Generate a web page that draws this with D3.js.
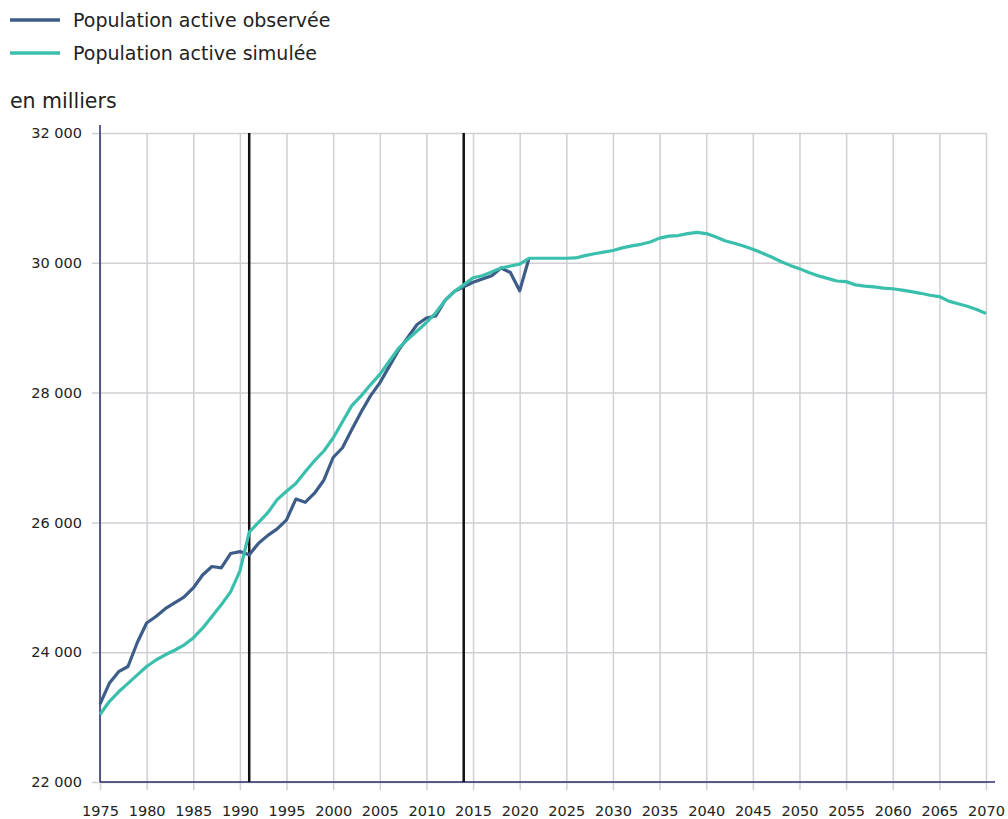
<!DOCTYPE html>
<html>
<head>
<meta charset="utf-8">
<script src="https://cdn.jsdelivr.net/npm/d3@7"></script>
<style>
  body { margin: 0; background: #fff; font-family: "DejaVu Sans", sans-serif; }
  .grid line { stroke: #cfcfd4; stroke-width: 1.5; }
  .grid text { font-family: "DejaVu Sans", sans-serif; font-size: 14.5px; fill: #222; }
</style>
</head>
<body>
<div id="chart"></div>
<script>
// years and values (en milliers)
const yearsObs = d3.range(1975, 2022);
const observed = [
  23200, 23520, 23700, 23780, 24150, 24450, 24550, 24670, 24760, 24850,
  24990, 25190, 25320, 25300, 25520, 25550, 25500, 25680, 25800, 25900,
  26040, 26360, 26310, 26450, 26650, 27000, 27150, 27430, 27700, 27950,
  28150, 28400, 28650, 28850, 29050, 29150, 29180, 29420, 29560, 29630,
  29700, 29750, 29800, 29920, 29850, 29570, 30070
];

const yearsSim = d3.range(1975, 2071);
const simulated = [
  23040, 23240, 23390, 23520, 23650, 23780, 23880, 23960, 24030, 24110,
  24220, 24370, 24550, 24730, 24930, 25250, 25850, 26000, 26150, 26350,
  26480, 26600, 26780, 26950, 27100, 27300, 27550, 27800, 27950, 28120,
  28280, 28480, 28680, 28820, 28950, 29080, 29230, 29420, 29560, 29660,
  29770, 29800, 29860, 29920, 29950, 29980, 30070, 30070, 30070, 30070,
  30070, 30075, 30110, 30140, 30165, 30190, 30230, 30260, 30285, 30320,
  30380, 30410, 30420, 30450, 30470, 30450, 30400, 30340, 30300, 30260,
  30210, 30150, 30090, 30020, 29960, 29910, 29850, 29800, 29760, 29720,
  29710, 29660, 29640, 29630, 29610, 29600, 29580, 29555, 29530, 29500,
  29480, 29410, 29370, 29330, 29280, 29220
];

const xTicks = d3.range(1975, 2071, 5);
const yTicks = [22000, 24000, 26000, 28000, 30000, 32000];
const markerYears = [1991, 2014];
const seriesNames = ["Population active observée", "Population active simulée"];
const colors = ["#3d5d88", "#3bbfad"];

const W = 1008, H = 819;
const margin = { top: 133, right: 22, bottom: 37, left: 100 };
const height = H - margin.top - margin.bottom;

const fr = d3.formatLocale({ decimal: ",", thousands: " ", grouping: [3], currency: ["", ""] });
const fmt = fr.format(",");

const svg = d3.select("#chart").append("svg")
  .attr("width", W).attr("height", H);

const g = svg.append("g").attr("transform", `translate(${margin.left},${margin.top})`);

const x = d3.scaleLinear().domain([1975, 2070]).range([0, 886]);
const y = d3.scaleLinear().domain([22000, 32000]).range([height, 0]);

// horizontal grid + y labels
const yAxisG = g.append("g").attr("class", "grid")
  .attr("transform", "translate(-8,0)")
  .call(d3.axisLeft(y).tickValues(yTicks).tickSize(-886 - 8).tickPadding(10).tickFormat(fmt));
yAxisG.select(".domain").remove();
yAxisG.attr("font-size", null).attr("font-family", null);

// vertical grid + x labels
const xAxisG = g.append("g").attr("class", "grid")
  .attr("transform", `translate(0,${height + 8})`)
  .call(d3.axisBottom(x).tickValues(xTicks).tickSize(-height - 8).tickFormat(d3.format("d")).tickPadding(16));
xAxisG.select(".domain").remove();
xAxisG.attr("font-size", null).attr("font-family", null);

// axis lines
g.append("line").attr("x1", 0).attr("x2", 0).attr("y1", -8).attr("y2", height)
  .attr("stroke", "#2b2d6b").attr("stroke-width", 1.5);
g.append("line").attr("x1", 0).attr("x2", 895).attr("y1", height).attr("y2", height)
  .attr("stroke", "#2b2d6b").attr("stroke-width", 1.5);

// marker lines
g.selectAll(".marker").data(markerYears).enter().append("line")
  .attr("class", "marker")
  .attr("x1", (d) => x(d)).attr("x2", (d) => x(d))
  .attr("y1", 0).attr("y2", height)
  .attr("stroke", "#111").attr("stroke-width", 2.5);

const line = d3.line().x((d) => x(d[0])).y((d) => y(d[1]));

g.append("path")
  .datum(yearsObs.map((yr, i) => [yr, observed[i]]))
  .attr("d", line).attr("fill", "none")
  .attr("stroke", colors[0]).attr("stroke-width", 3.2).attr("stroke-linejoin", "round");

g.append("path")
  .datum(yearsSim.map((yr, i) => [yr, simulated[i]]))
  .attr("d", line).attr("fill", "none")
  .attr("stroke", colors[1]).attr("stroke-width", 3.2).attr("stroke-linejoin", "round");

// legend
const legend = svg.append("g");
seriesNames.forEach((name, i) => {
  const ly = 20 + i * 33;
  legend.append("line").attr("x1", 10).attr("x2", 60).attr("y1", ly).attr("y2", ly)
    .attr("stroke", colors[i]).attr("stroke-width", 3.5);
  legend.append("text").attr("x", 73).attr("y", ly + 7)
    .style("font-size", "19px").attr("fill", "#222").text(name);
});

svg.append("text").attr("x", 10).attr("y", 108)
  .style("font-size", "20.5px").attr("fill", "#222").text("en milliers");
</script>
</body>
</html>
